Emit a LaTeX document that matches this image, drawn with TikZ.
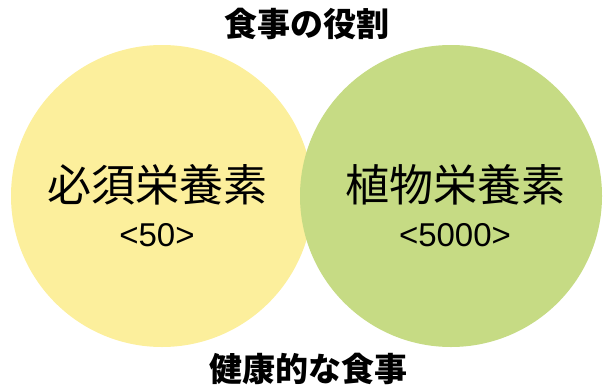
\documentclass[tikz,border=0pt]{standalone}
\usepackage{fontspec}
\setmainfont{Noto Sans CJK JP}
\newfontfamily\numfont{Liberation Sans}
\definecolor{leftyellow}{HTML}{FCEF9C}
\definecolor{rightgreen}{HTML}{C6DB84}
\begin{document}
\begin{tikzpicture}[x=1pt,y=-1pt,
  venn/.style={circle,minimum size=302pt,inner sep=0pt},
  bigtxt/.style={font=\fontsize{44}{48}\selectfont,inner sep=0pt},
  numtxt/.style={font=\numfont\fontsize{33}{36}\selectfont,inner sep=0pt},
  titletxt/.style={font=\bfseries\fontsize{33}{36}\selectfont,inner sep=0pt}]
\useasboundingbox (0,0) rectangle (604,388);
\node[venn,fill=leftyellow] (lc) at (162,196) {};
\node[venn,fill=rightgreen] (rc) at (451,196) {};
\node[titletxt] (title) at (307,24) {食事の役割};
\node[titletxt] (bottom) at (308,369) {健康的な食事};
\node[bigtxt] (ltext) at (157,185) {必須栄養素};
\node[numtxt] (lnum) at (157,235) {<50>};
\node[bigtxt] (rtext) at (455,185) {植物栄養素};
\node[numtxt] (rnum) at (455,235) {<5000>};
\end{tikzpicture}
\end{document}
